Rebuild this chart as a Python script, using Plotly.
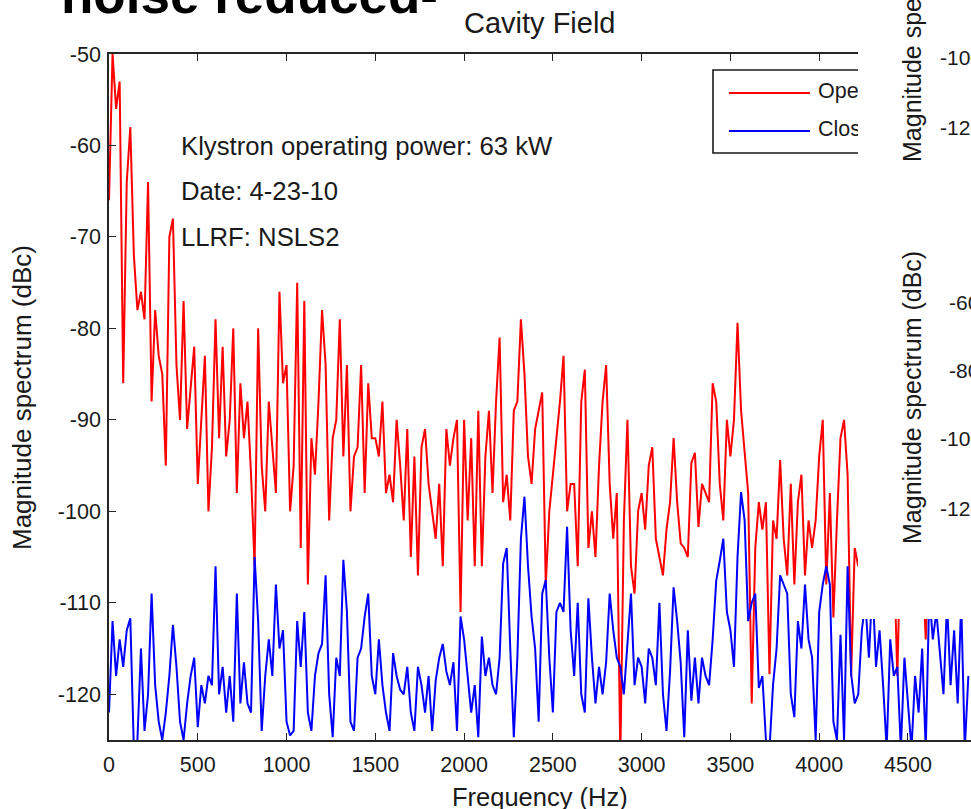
import plotly.graph_objects as go

# ---------------- data (dBc, one value every 20 Hz starting at 0 Hz) ----------------
freq_step_hz = 20

open_loop_dbc = [
    -66, -50, -56, -53, -86, -64, -58, -72, -78, -76,
    -79, -64, -88, -78, -83, -85, -95, -70, -68, -84,
    -90, -77, -91, -86, -82, -97, -90, -83, -100, -93,
    -79, -92, -82, -94, -90, -80, -98, -86, -92, -88,
    -96, -106, -80, -95, -100, -88, -93, -98, -76, -86,
    -84, -100, -95, -75, -104, -77, -108, -92, -96, -88,
    -78, -84, -101, -92, -90, -79, -94, -84, -100, -94,
    -93, -84, -98, -86, -92, -92, -94, -88, -98, -96,
    -99, -90, -95, -101, -91, -105, -94, -107, -93, -91,
    -97, -100, -103, -97, -106, -91, -95, -92, -90, -111,
    -90, -101, -92, -106, -89, -106, -94, -89, -98, -88,
    -81, -99, -96, -101, -89, -88, -79, -85, -94, -97,
    -91, -89, -87, -108, -100, -96, -92, -88, -83, -100,
    -97, -97, -106, -88, -84.5, -104, -100, -105, -95, -88,
    -84, -97, -103, -98, -127, -101, -90, -106, -109, -100,
    -98, -102, -95, -93, -103, -105, -107, -102, -99, -92,
    -99, -103.5, -104, -105, -94.7, -93.6, -101.7, -97, -98, -99,
    -86, -88, -97, -101, -90, -94, -90, -79.4, -89, -94,
    -98, -121, -104, -99, -102, -99, -117.8, -101, -103, -94.4,
    -103, -107, -97, -108, -99, -96, -107, -101, -104, -101,
    -94, -90, -108, -98, -111.6, -101, -92, -90, -96, -118,
    -104, -106, -104, -100, -106, -102, -98, -105, -103, -108,
    -101, -104, -118, -102, -99, -106, -103, -100, -107, -105,
    -114, -103, -99, -104, -101, -107, -100, -104, -102, -106,
    -103, -100, -105,
]

closed_loop_dbc = [
    -122, -112, -118, -114, -117, -113, -111.7, -126, -125, -115,
    -124, -120, -109, -119, -123, -125, -122, -118, -112.4, -117,
    -123, -125, -121, -118, -116, -123.6, -119, -121, -118, -119,
    -106, -120, -117, -122, -118, -123, -109, -121, -116.5, -121,
    -122, -105, -112, -124, -118, -114, -118, -108, -115, -113,
    -123, -124.5, -124, -112, -117, -111, -122, -124, -118, -115.5,
    -114.5, -107, -120, -124.7, -116, -118, -105.3, -111, -123, -124,
    -116, -115, -111.5, -109, -118, -120, -114, -119, -122, -124,
    -115.5, -118, -119.5, -120, -117, -122, -124, -117, -119, -122,
    -118, -124, -118.5, -116, -114.5, -117.5, -119, -116.5, -124, -111.5,
    -114, -118, -122, -119, -124.7, -113.7, -118, -116, -119, -120,
    -116, -105.7, -104, -115, -124.7, -116, -103, -98.4, -106, -111.5,
    -115, -123, -109, -107.5, -116, -122, -111, -110, -111, -101.7,
    -113, -118, -110, -120, -122, -109.5, -116, -121, -117, -120,
    -116.5, -109, -113, -116, -117, -120, -115, -109, -119, -116,
    -117, -121, -115, -116, -119, -110, -120, -124, -117.5, -108.3,
    -112, -116.6, -124.7, -113, -120.7, -116, -121, -116, -118, -119,
    -114, -107.6, -105.4, -103, -111, -113, -117, -105, -97.9, -101,
    -112, -110, -109, -119.3, -118, -125, -126, -119, -115, -107,
    -108, -109, -120, -122.5, -112, -115, -108, -114, -116, -125,
    -111, -108, -106, -108, -123, -125, -113.5, -125, -106, -117.8,
    -121, -120, -113, -110, -116, -108, -117, -113, -119, -126,
    -114, -118, -117, -126, -116, -121, -126, -118, -122, -115,
    -126, -109, -114, -111, -116, -120, -110, -119, -113, -121,
    -110, -126, -118,
]

freq_open = [freq_step_hz * i for i in range(len(open_loop_dbc))]
freq_closed = [freq_step_hz * i for i in range(len(closed_loop_dbc))]

series_names = ["Open loop", "Closed loop"]
x_tick_vals = [0, 500, 1000, 1500, 2000, 2500, 3000, 3500, 4000, 4500]
x_tick_text = ["0", "500", "1000", "1500", "2000", "2500", "3000", "3500", "4000", "4500"]
y_tick_vals = [-120, -110, -100, -90, -80, -70, -60, -50]
y_tick_text = ["-120", "-110", "-100", "-90", "-80", "-70", "-60", "-50"]
info_lines = ["Klystron operating power: 63 kW", "Date: 4-23-10", "LLRF: NSLS2"]
neighbor_ticks_top = ["-100", "-120"]
neighbor_ticks_low = ["-60", "-80", "-100", "-120"]

# ---------------- geometry ----------------
W, H = 971, 809
L, R, T, B = 109, 0, 54, 69
PW, PH = W - L - R, H - T - B
FONT = "Liberation Sans, Arial, Helvetica, sans-serif"
TXT = "#1a1a1a"


def px(x):
    return (x - L) / PW


def py(y):
    return (H - B - y) / PH


fig = go.Figure()
fig.add_trace(go.Scatter(x=freq_open, y=open_loop_dbc, mode="lines",
                         line=dict(color="#ff0000", width=2), name=series_names[0],
                         showlegend=False))
fig.add_trace(go.Scatter(x=freq_closed, y=closed_loop_dbc, mode="lines",
                         line=dict(color="#0000ff", width=2), name=series_names[1],
                         showlegend=False))

# legend labels drawn as text so they can be cut by the overlapping panel
fig.add_trace(go.Scatter(x=[px(818), px(818)], y=[py(93), py(131)], mode="text",
                         text=series_names, textposition="middle right",
                         textfont=dict(family=FONT, size=21.5, color=TXT),
                         xaxis="x2", yaxis="y2", showlegend=False, hoverinfo="skip",
                         cliponaxis=False))

shapes = [
    dict(type="rect", xref="paper", yref="paper", x0=px(713), x1=px(1000),
         y0=py(153), y1=py(70), line=dict(color="#1a1a1a", width=1.6),
         fillcolor="white", layer="below"),
    dict(type="line", xref="paper", yref="paper", x0=px(729), x1=px(810),
         y0=py(93), y1=py(93), line=dict(color="#ff0000", width=2), layer="below"),
    dict(type="line", xref="paper", yref="paper", x0=px(729), x1=px(810),
         y0=py(131), y1=py(131), line=dict(color="#0000ff", width=2), layer="below"),
    # neighbouring panel that overlaps the right part of the figure
    dict(type="rect", xref="paper", yref="paper", x0=px(858), x1=px(990),
         y0=py(619), y1=py(-30), line=dict(width=0), fillcolor="white", layer="above"),
]

ann = []
ann.append(dict(text="<b>noise reduced-</b>", x=px(60), y=py(25), xref="paper", yref="paper",
                xanchor="left", yanchor="bottom", showarrow=False, borderpad=0,
                font=dict(family=FONT, size=53, color="#000000")))
ann.append(dict(text="Cavity Field", x=px(540), y=py(23), xref="paper", yref="paper",
                xanchor="center", yanchor="middle", showarrow=False,
                font=dict(family=FONT, size=29, color=TXT)))
ann.append(dict(text="Frequency (Hz)", x=px(540), y=py(797), xref="paper", yref="paper",
                xanchor="center", yanchor="middle", showarrow=False,
                font=dict(family=FONT, size=25.5, color=TXT)))
ann.append(dict(text="Magnitude spectrum (dBc)", x=px(22), y=py(398), xref="paper", yref="paper",
                xanchor="center", yanchor="middle", showarrow=False, textangle=-90,
                font=dict(family=FONT, size=26, color=TXT)))
for txt, yc in zip(info_lines, [146, 191, 237]):
    ann.append(dict(text=txt, x=px(179), y=py(yc), xref="paper", yref="paper",
                    xanchor="left", yanchor="middle", showarrow=False,
                    font=dict(family=FONT, size=25.7, color=TXT)))
# neighbouring panel's texts (cut by the page edge)
for yc in [16, 398]:
    ann.append(dict(text="Magnitude spectrum (dBc)", x=px(912), y=py(yc), xref="paper",
                    yref="paper", xanchor="center", yanchor="middle", showarrow=False,
                    textangle=-90, font=dict(family=FONT, size=25, color=TXT)))
for txt, yc in zip(neighbor_ticks_top, [58, 128]):
    ann.append(dict(text=txt, x=px(938), y=py(yc), xref="paper", yref="paper",
                    xanchor="left", yanchor="middle", showarrow=False,
                    font=dict(family=FONT, size=21, color=TXT)))
for txt, xl, yc in zip(neighbor_ticks_low, [947, 947, 938, 938], [302, 370, 438, 508]):
    ann.append(dict(text=txt, x=px(xl), y=py(yc), xref="paper", yref="paper",
                    xanchor="left", yanchor="middle", showarrow=False,
                    font=dict(family=FONT, size=21, color=TXT)))

axis_common = dict(showgrid=False, zeroline=False, showline=True, linecolor="#262626",
                   linewidth=1.6, ticks="inside", ticklen=7, tickwidth=1.2,
                   tickcolor="#262626", tickfont=dict(family=FONT, size=21.5, color=TXT))

fig.update_layout(
    width=W, height=H, margin=dict(l=L, r=R, t=T, b=B, pad=0),
    paper_bgcolor="white", plot_bgcolor="white", showlegend=False,
    font=dict(family=FONT, color=TXT),
    xaxis=dict(range=[0, 4855], tickvals=x_tick_vals, ticktext=x_tick_text,
               mirror="ticks", ticklabelstandoff=4, **axis_common),
    yaxis=dict(range=[-125, -50], tickvals=y_tick_vals, ticktext=y_tick_text,
               mirror=False, ticklabelstandoff=2, **axis_common),
    xaxis2=dict(overlaying="x", range=[0, 1], visible=False),
    yaxis2=dict(overlaying="y", range=[0, 1], visible=False),
    shapes=shapes, annotations=ann,
)

fig.write_html("out.html")
